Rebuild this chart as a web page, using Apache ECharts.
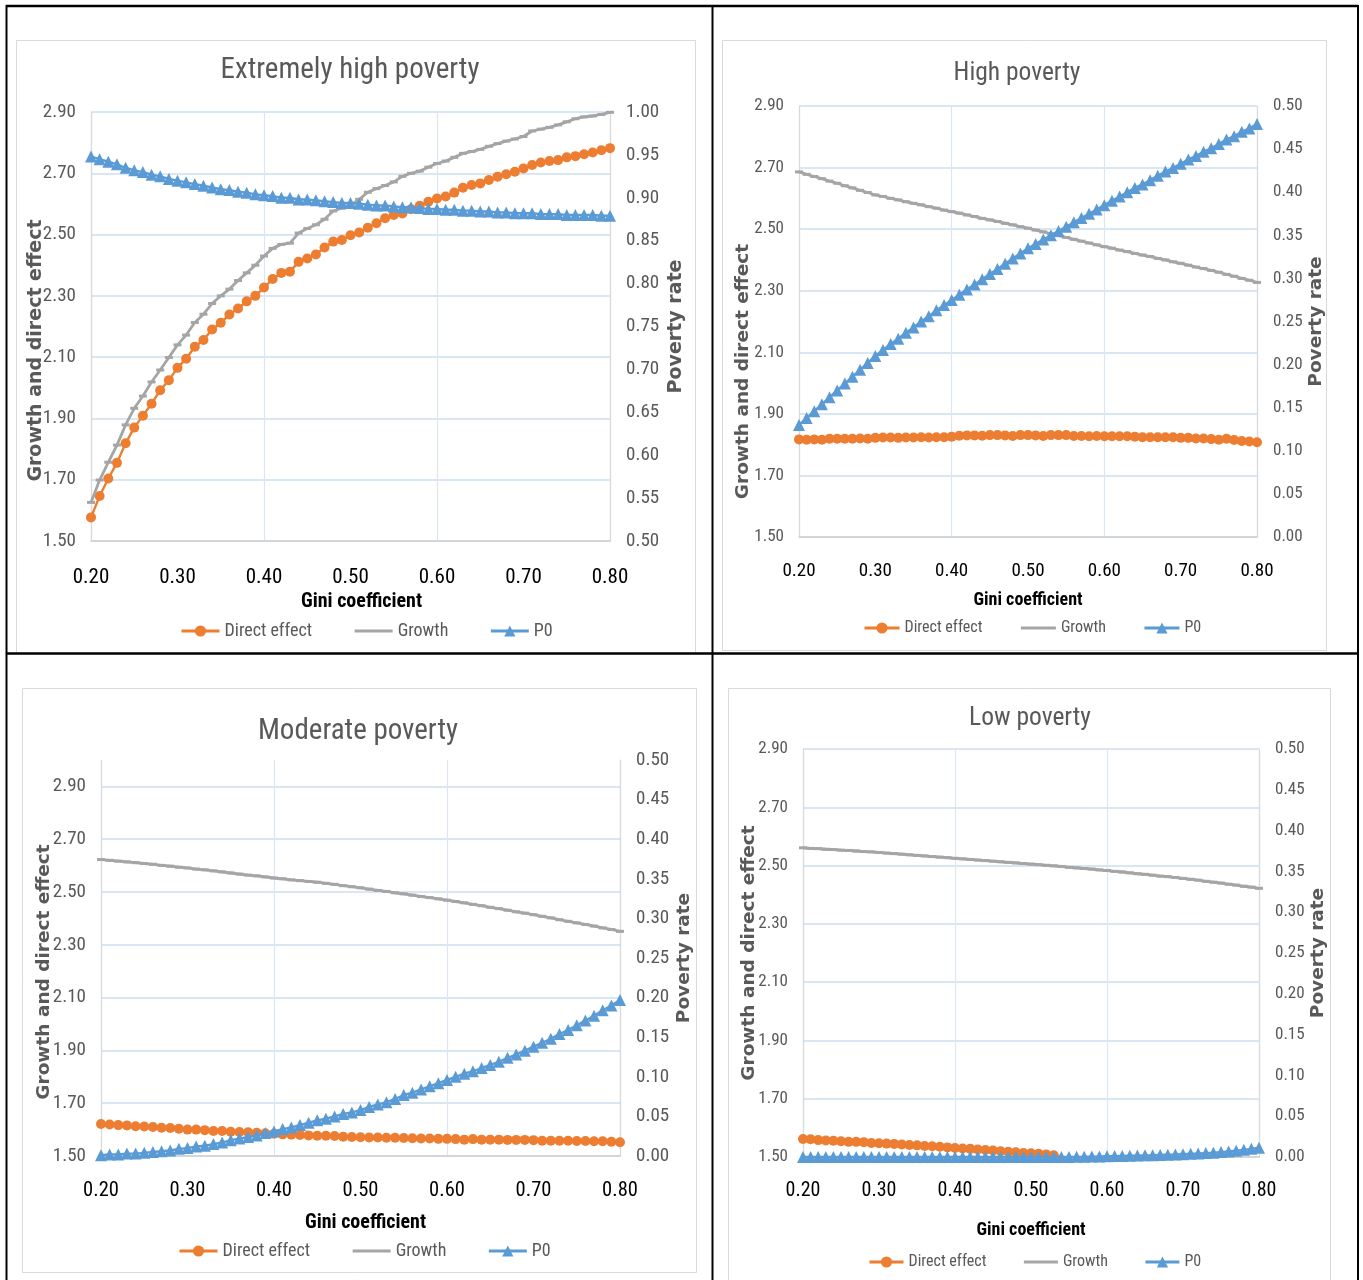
<!DOCTYPE html>
<html>
<head>
<meta charset="utf-8">
<script src="https://cdn.jsdelivr.net/npm/echarts@6/dist/echarts.min.js"></script>
<style>
html,body{margin:0;padding:0;background:#fff;}
#chart{width:1363px;height:1280px;}
</style>
</head>
<body>
<div id="chart"></div>
<script>
// ---------- DATA ----------
const gini = ['0.20','0.21','0.22','0.23','0.24','0.25','0.26','0.27','0.28','0.29',
 '0.30','0.31','0.32','0.33','0.34','0.35','0.36','0.37','0.38','0.39',
 '0.40','0.41','0.42','0.43','0.44','0.45','0.46','0.47','0.48','0.49',
 '0.50','0.51','0.52','0.53','0.54','0.55','0.56','0.57','0.58','0.59',
 '0.60','0.61','0.62','0.63','0.64','0.65','0.66','0.67','0.68','0.69',
 '0.70','0.71','0.72','0.73','0.74','0.75','0.76','0.77','0.78','0.79','0.80'];

const seriesNames = ['Direct effect','Growth','P0'];
const panelTitles = ['Extremely high poverty','High poverty','Moderate poverty','Low poverty'];

// Extremely high poverty
const ehpDirect = [1.577,1.647,1.704,1.755,1.819,1.870,1.909,1.948,1.992,2.025,
 2.065,2.095,2.134,2.156,2.190,2.212,2.239,2.259,2.282,2.300,
 2.327,2.355,2.375,2.379,2.411,2.422,2.435,2.458,2.477,2.482,
 2.498,2.507,2.522,2.537,2.553,2.564,2.569,2.583,2.594,2.607,
 2.618,2.624,2.637,2.653,2.662,2.667,2.678,2.689,2.697,2.705,
 2.716,2.727,2.735,2.740,2.743,2.752,2.756,2.762,2.768,2.775,2.782];
const ehpGrowth = [1.626,1.699,1.757,1.813,1.879,1.933,1.973,2.019,2.058,2.099,
 2.140,2.172,2.213,2.240,2.275,2.300,2.322,2.350,2.375,2.400,
 2.430,2.455,2.468,2.472,2.505,2.520,2.532,2.550,2.577,2.586,
 2.595,2.615,2.638,2.650,2.660,2.672,2.690,2.700,2.707,2.720,
 2.732,2.740,2.752,2.765,2.771,2.778,2.788,2.797,2.805,2.812,
 2.820,2.838,2.844,2.850,2.858,2.868,2.878,2.884,2.887,2.892,2.899];
const ehpP0 = [0.948,0.945,0.942,0.939,0.935,0.932,0.930,0.927,0.925,0.922,
 0.920,0.918,0.916,0.914,0.912,0.910,0.909,0.907,0.906,0.904,
 0.903,0.902,0.900,0.900,0.898,0.898,0.897,0.896,0.895,0.894,
 0.894,0.893,0.892,0.891,0.891,0.890,0.889,0.889,0.888,0.887,
 0.887,0.886,0.886,0.885,0.885,0.884,0.884,0.883,0.883,0.882,
 0.882,0.882,0.881,0.881,0.881,0.880,0.880,0.880,0.880,0.879,0.879];

// High poverty
const hpDirect = [1.817,1.816,1.817,1.816,1.819,1.819,1.819,1.819,1.820,1.819,
 1.822,1.823,1.823,1.822,1.823,1.823,1.824,1.823,1.824,1.824,
 1.826,1.829,1.830,1.830,1.829,1.831,1.831,1.830,1.828,1.831,
 1.831,1.830,1.828,1.831,1.831,1.831,1.828,1.828,1.827,1.828,
 1.827,1.827,1.827,1.827,1.826,1.824,1.824,1.824,1.824,1.824,
 1.822,1.822,1.820,1.820,1.818,1.816,1.819,1.815,1.812,1.810,1.808];
const hpGrowth = [2.686,2.678,2.671,2.664,2.656,2.649,2.641,2.634,2.626,2.619,
 2.611,2.606,2.600,2.595,2.589,2.584,2.579,2.573,2.568,2.562,
 2.557,2.552,2.546,2.541,2.535,2.530,2.525,2.519,2.514,2.508,
 2.503,2.497,2.491,2.485,2.479,2.473,2.467,2.461,2.455,2.449,
 2.443,2.438,2.432,2.427,2.421,2.416,2.411,2.405,2.400,2.394,
 2.389,2.383,2.377,2.372,2.366,2.360,2.353,2.347,2.340,2.334,2.327];
const hpP0 = [0.130,0.138,0.146,0.154,0.162,0.170,0.178,0.186,0.194,0.202,
 0.210,0.217,0.224,0.230,0.237,0.243,0.250,0.256,0.263,0.269,
 0.275,0.281,0.287,0.293,0.299,0.305,0.311,0.317,0.323,0.329,
 0.335,0.340,0.345,0.350,0.355,0.360,0.365,0.370,0.375,0.380,
 0.385,0.390,0.395,0.400,0.405,0.409,0.414,0.419,0.424,0.428,
 0.433,0.438,0.442,0.447,0.451,0.456,0.461,0.465,0.470,0.474,0.479];

// Moderate poverty
const mpDirect = [1.621,1.619,1.617,1.616,1.613,1.612,1.610,1.607,1.606,1.603,
 1.600,1.600,1.598,1.595,1.595,1.592,1.591,1.590,1.588,1.586,
 1.584,1.582,1.581,1.580,1.578,1.577,1.577,1.576,1.573,1.572,
 1.571,1.570,1.570,1.569,1.569,1.568,1.567,1.566,1.566,1.565,
 1.565,1.564,1.562,1.564,1.562,1.562,1.562,1.561,1.561,1.561,
 1.560,1.558,1.558,1.558,1.558,1.557,1.557,1.556,1.556,1.554,1.552];
const mpGrowth = [2.623,2.620,2.617,2.614,2.611,2.608,2.605,2.601,2.598,2.594,
 2.591,2.587,2.584,2.580,2.576,2.572,2.568,2.564,2.561,2.557,
 2.553,2.550,2.546,2.543,2.540,2.537,2.533,2.529,2.524,2.520,
 2.516,2.511,2.506,2.502,2.497,2.493,2.488,2.483,2.479,2.474,
 2.469,2.464,2.459,2.453,2.448,2.442,2.437,2.431,2.425,2.420,
 2.414,2.408,2.402,2.395,2.389,2.383,2.377,2.371,2.364,2.358,2.351];
const mpP0 = [0.001,0.002,0.002,0.003,0.003,0.004,0.005,0.006,0.007,0.009,
 0.010,0.012,0.013,0.015,0.017,0.020,0.022,0.024,0.026,0.029,
 0.031,0.034,0.036,0.039,0.042,0.045,0.047,0.050,0.053,0.055,
 0.058,0.062,0.065,0.068,0.072,0.077,0.080,0.084,0.088,0.092,
 0.096,0.100,0.104,0.107,0.111,0.115,0.119,0.124,0.128,0.133,
 0.138,0.143,0.148,0.154,0.159,0.165,0.171,0.177,0.184,0.190,0.197];

// Low poverty
const lpDirect = [1.562,1.561,1.558,1.557,1.556,1.554,1.552,1.552,1.551,1.548,
 1.547,1.546,1.545,1.543,1.541,1.540,1.538,1.537,1.535,1.533,
 1.531,1.529,1.528,1.526,1.524,1.522,1.520,1.518,1.516,1.514,
 1.513,1.511,1.509,1.506,null,null,null,null,null,null,
 null,null,null,null,null,null,null,null,null,null,
 null,null,null,null,null,null,null,null,null,null,null];
const lpGrowth = [2.561,2.559,2.558,2.556,2.555,2.553,2.552,2.550,2.548,2.547,
 2.545,2.543,2.541,2.539,2.537,2.535,2.533,2.531,2.529,2.527,
 2.525,2.523,2.521,2.519,2.517,2.515,2.513,2.511,2.509,2.507,
 2.505,2.503,2.501,2.499,2.497,2.494,2.492,2.490,2.488,2.485,
 2.483,2.480,2.478,2.475,2.472,2.470,2.467,2.464,2.462,2.459,
 2.456,2.453,2.450,2.446,2.443,2.440,2.436,2.433,2.429,2.426,2.422];
const lpP0 = [0.000,0.000,0.000,0.000,0.000,0.000,0.000,0.000,0.000,0.000,
 0.000,0.000,0.000,0.000,0.000,0.000,0.000,0.000,0.000,0.000,
 0.000,0.000,0.000,0.000,0.000,0.000,0.000,0.000,0.000,0.000,
 0.000,0.000,0.000,0.000,0.000,0.000,0.0002,0.0003,0.0005,0.0007,
 0.0009,0.0011,0.0013,0.0015,0.0017,0.0020,0.0022,0.0025,0.0028,0.0031,
 0.0035,0.0039,0.0043,0.0048,0.0053,0.0060,0.0068,0.0077,0.0088,0.0100,0.0113];

// ---------- LAYOUT / STYLE ----------
const NARROW = "'Liberation Sans Narrow','Arial Narrow','Roboto Condensed',Roboto,sans-serif";
const WIDE = "'DejaVu Sans',Verdana,sans-serif";
const COLORS = ['#ED7D31','#A5A5A5','#5B9BD5'];

const panels = [
  {data:[ehpDirect,ehpGrowth,ehpP0], grid:{left:91,top:112,width:519,height:429},
   lmin:1.5,lmax:2.9,rmin:0.5,rmax:1.0,
   title:{x:350,top:56,fs:29}, yfs:19, xfs:21, xnfs:20, nfs:19,
   lGap:45, lShift:24, rGap:57, xGap:51, xShift:11, xMargin:26,
   legend:{left:180,top:622,itemWidth:38,itemGap:41,fs:18}},
  {data:[hpDirect,hpGrowth,hpP0], grid:{left:799,top:106,width:458,height:431},
   lmin:1.5,lmax:2.9,rmin:0,rmax:0.5,
   title:{x:1017,top:61,fs:25.5}, yfs:17, xfs:19, xnfs:18, nfs:18.5,
   lGap:46, lShift:50, rGap:45, xGap:54, xShift:0, xMargin:25,
   legend:{left:863,top:620,itemWidth:35,itemGap:37,fs:16}},
  {data:[mpDirect,mpGrowth,mpP0], grid:{left:101,top:760,width:519,height:396},
   lmin:1.5,lmax:3.0,rmin:0,rmax:0.5,
   title:{x:358,top:717,fs:29}, yfs:19, xfs:20.5, xnfs:20, nfs:18.5,
   lGap:47, lShift:14, rGap:55, xGap:57, xShift:5, xMargin:24,
   legend:{left:178,top:1242,itemWidth:38,itemGap:41,fs:18}},
  {data:[lpDirect,lpGrowth,lpP0], grid:{left:803,top:749,width:456,height:408},
   lmin:1.5,lmax:2.9,rmin:0,rmax:0.5,
   title:{x:1030,top:706,fs:25.5}, yfs:17, xfs:20, xnfs:18, nfs:18.5,
   lGap:44, lShift:0, rGap:48, xGap:64, xShift:0, xMargin:24,
   legend:{left:868,top:1254,itemWidth:34,itemGap:36,fs:16}}
];

const option = {
  animation:false,
  backgroundColor:'#ffffff',
  title:[], grid:[], xAxis:[], yAxis:[], legend:[], series:[],
  graphic:[]
};

panels.forEach((p,i)=>{
  option.title.push({
    text:panelTitles[i], left:p.title.x, top:p.title.top, textAlign:'center', padding:0,
    textStyle:{fontFamily:NARROW,fontSize:p.title.fs,fontWeight:'normal',color:'#595959'}
  });
  option.grid.push(Object.assign({containLabel:false}, p.grid));
  option.xAxis.push({
    type:'category', gridIndex:i, data:gini, boundaryGap:false,
    axisLine:{onZero:false, lineStyle:{color:'#d0d0d0',width:1.5}},
    axisTick:{show:false},
    axisLabel:{interval:9, color:'#000', fontFamily:NARROW, fontSize:p.xfs, margin:p.xMargin},
    splitLine:{show:true, interval:19, lineStyle:{color:'#dbe6f2',width:1.2}},
    name:'Gini coefficient', nameLocation:'middle', nameGap:p.xGap,
    nameTextStyle:{fontFamily:NARROW,fontWeight:'bold',fontSize:p.xnfs,color:'#000',padding:[0,0,0,p.xShift*2]}
  });
  option.yAxis.push({
    type:'value', gridIndex:i, position:'left', min:p.lmin, max:p.lmax, interval:0.2,
    axisLine:{show:true, lineStyle:{color:'#d9d9d9',width:1.2}},
    axisTick:{show:false},
    axisLabel:{formatter:v=>v.toFixed(2), color:'#595959', fontFamily:NARROW, fontSize:p.yfs, margin:15,
      showMaxLabel: p.lmax===2.9},
    splitLine:{show:true, showMaxLine: p.lmax===2.9, lineStyle:{color:'#cddff0',width:1.6}},
    name:'Growth and direct effect', nameLocation:'middle', nameRotate:90, nameGap:p.lGap,
    nameMoveOverlap:false,
    nameTextStyle:{fontFamily:WIDE,fontWeight:'bold',fontSize:p.nfs,color:'#595959',padding:[0,p.lShift*2,0,0]}
  });
  option.yAxis.push({
    type:'value', gridIndex:i, position:'right', min:p.rmin, max:p.rmax, interval:0.05,
    axisLine:{show:true, lineStyle:{color:'#d9d9d9',width:1.2}},
    axisTick:{show:false},
    axisLabel:{formatter:v=>v.toFixed(2), color:'#595959', fontFamily:NARROW, fontSize:p.yfs, margin:16},
    splitLine:{show:false},
    name:'Poverty rate', nameLocation:'middle', nameRotate:90, nameGap:p.rGap,
    nameTextStyle:{fontFamily:WIDE,fontWeight:'bold',fontSize:p.nfs,color:'#595959'}
  });
  option.legend.push({
    left:p.legend.left, top:p.legend.top, padding:0, orient:'horizontal',
    itemWidth:p.legend.itemWidth, itemHeight:14, itemGap:p.legend.itemGap,
    selectedMode:false,
    lineStyle:{width:3},
    data:[seriesNames[0], {name:seriesNames[1], itemStyle:{opacity:0}}, seriesNames[2]],
    textStyle:{fontFamily:NARROW,fontSize:p.legend.fs,color:'#595959'}
  });
  const sym = [['circle',10],['rect',[8,3]],['triangle',12]];
  seriesNames.forEach((nm,k)=>{
    option.series.push({
      name:nm, type:'line', xAxisIndex:i, yAxisIndex: k===2 ? 2*i+1 : 2*i,
      data:p.data[k], symbol:sym[k][0], symbolSize:sym[k][1], showSymbol:true, showAllSymbol:true,
      clip:true, connectNulls:false,
      lineStyle:{width: k===1 ? 2.8 : 2.4, color:COLORS[k]},
      itemStyle:{color:COLORS[k], borderWidth:0},
      z: 2+k
    });
  });
});

// page frame and chart boxes
const boxes = [[16,40,679,613],[722,40,604,610],[22,688,674,584],[728,688,602,600]];
boxes.forEach(b=>option.graphic.push({type:'rect', silent:true, z:-1,
  shape:{x:b[0]+0.5,y:b[1]+0.5,width:b[2],height:b[3]},
  style:{fill:'none',stroke:'#d9d9d9',lineWidth:1}}));
const lines = [[6,6,1358,6,2.5],[6.5,5,6.5,1280,2],[1358,5,1358,1280,2],[712.5,5,712.5,1280,2],[6,653.5,1358,653.5,2.5]];
lines.forEach(l=>option.graphic.push({type:'line', silent:true, z:10,
  shape:{x1:l[0],y1:l[1],x2:l[2],y2:l[3]}, style:{stroke:'#000',lineWidth:l[4]}}));

const chart = echarts.init(document.getElementById('chart'), null, {renderer:'canvas'});
chart.setOption(option);
</script>
</body>
</html>
